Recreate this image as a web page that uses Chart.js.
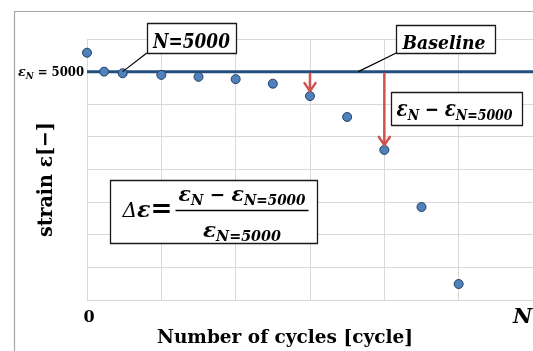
<!DOCTYPE html>
<html><head><meta charset="utf-8">
<script src="https://cdn.jsdelivr.net/npm/chart.js@4/dist/chart.umd.min.js"></script>
<style>html,body{margin:0;padding:0;background:#fff;overflow:hidden}</style>
</head><body>
<canvas id="c" width="533" height="351"></canvas>
<script>
// ---- data ----
const cycles = [0, 0.23, 0.48, 1, 1.5, 2, 2.5, 3, 3.5, 4, 4.5, 5];
const strain = [7.58, 7.0, 6.95, 6.9, 6.84, 6.77, 6.63, 6.25, 5.61, 4.6, 2.85, 0.49];
const baselineX = [0, 6];
const baselineY = [7, 7];
const xTickLabels = ['0', 'N'];
const yTickValue = 7;
const arrowIdx = [7, 9];

const SERIF = '"DejaVu Serif"';
function F(style, size){ return style + ' ' + size + 'px ' + SERIF; }

function runsWidth(ctx, runs){ let w=0; for(const r of runs){ ctx.font=r.f; w+=ctx.measureText(r.t).width; } return w; }
// draw runs squeezed/stretched to a target width, centred on cx, on baseline y
function drawFit(ctx, runs, cx, y, target){
  const w = runsWidth(ctx, runs);
  const s = target ? target / w : 1;
  ctx.save();
  ctx.translate(cx - w*s/2, y); ctx.scale(s, 1);
  ctx.textAlign='left'; ctx.textBaseline='alphabetic';
  let x = 0;
  for(const r of runs){ ctx.font=r.f; ctx.fillText(r.t, x, r.dy||0); x += ctx.measureText(r.t).width; }
  ctx.restore();
}
function epsN(size, subSize, sub){
  return [{t:'ε', f:F('bold italic', size)}, {t:sub, f:F('bold italic', subSize), dy: Math.round(size*0.2)}];
}

const annot = {
  id:'annot',
  beforeDraw(chart){
    const ctx = chart.ctx;
    ctx.save();
    ctx.fillStyle='#fff'; ctx.fillRect(0,0,chart.width,chart.height);
    ctx.strokeStyle='#a6a6a6'; ctx.lineWidth=1.2;
    ctx.beginPath(); ctx.moveTo(14.5, chart.height); ctx.lineTo(14.5, 11.5); ctx.lineTo(chart.width, 11.5); ctx.stroke();
    ctx.restore();
  },
  afterDatasetsDraw(chart){
    const ctx = chart.ctx, xs = chart.scales.x, ys = chart.scales.y, ca = chart.chartArea;
    const px = v => xs.getPixelForValue(v), py = v => ys.getPixelForValue(v);
    ctx.save();
    // red arrows from the baseline down to the point
    ctx.strokeStyle = '#cf5250'; ctx.lineWidth = 2.5; ctx.lineCap='round'; ctx.lineJoin='round';
    for(const i of arrowIdx){
      const x = px(cycles[i]); const y0 = py(baselineY[0]) + 2; const tip = py(strain[i]) - 5;
      ctx.beginPath(); ctx.moveTo(x, y0); ctx.lineTo(x, tip); ctx.stroke();
      ctx.beginPath(); ctx.moveTo(x-5.5, tip-8); ctx.lineTo(x, tip); ctx.lineTo(x+5.5, tip-8); ctx.stroke();
    }
    // leader lines
    ctx.strokeStyle='#000'; ctx.lineWidth=1.2; ctx.lineCap='butt';
    ctx.beginPath(); ctx.moveTo(px(0.805), py(7.57)); ctx.lineTo(px(0.48), py(7.0)); ctx.stroke();
    ctx.beginPath(); ctx.moveTo(px(4.16), py(7.57)); ctx.lineTo(px(3.65), py(7.0)); ctx.stroke();
    function box(x0,x1,yt,yb){
      const l=Math.round(px(x0))+0.5, r=Math.round(px(x1))+0.5, t=Math.round(py(yt))+0.5, b=Math.round(py(yb))+0.5;
      ctx.fillStyle='#fff'; ctx.fillRect(l,t,r-l,b-t);
      ctx.strokeStyle='#1a1a1a'; ctx.lineWidth=1.3; ctx.strokeRect(l,t,r-l,b-t);
      ctx.fillStyle='#000';
      return {l,r,t,b,cx:(l+r)/2,cy:(t+b)/2};
    }
    let b = box(0.805, 2.01, 8.49, 7.57);
    drawFit(ctx, [{t:'N=5000', f:F('bold italic',20)}], b.cx-0.5, b.b-6, 77);
    b = box(4.16, 5.49, 8.43, 7.57);
    drawFit(ctx, [{t:'Baseline', f:F('bold italic',18)}], b.cx-2, b.b-5, 83);
    b = box(4.09, 5.85, 6.38, 5.36);
    drawFit(ctx, [...epsN(22,15,'N'), {t:' − ', f:F('bold',20)}, ...epsN(22,15,'N=5000')], b.cx-2.5, b.b-10, 116);
    // formula box
    b = box(0.31, 3.10, 3.68, 1.75);
    const lineY = Math.round(b.t + 29.5) + 0.5;
    drawFit(ctx, [{t:'Δ', f:F('italic',20)}, {t:'ε', f:F('bold italic',22)}, {t:'=', f:F('bold',26)}], b.l+12+25, lineY+6, 50);
    const fl = b.l + 65, fr = b.l + 198;
    ctx.strokeStyle='#000'; ctx.lineWidth=1.3; ctx.beginPath(); ctx.moveTo(fl, lineY); ctx.lineTo(fr, lineY); ctx.stroke();
    drawFit(ctx, [...epsN(21,14,'N'), {t:' − ', f:F('bold',19)}, ...epsN(21,14,'N=5000')], (fl+fr)/2, lineY-10, 127);
    drawFit(ctx, epsN(21,14,'N=5000'), (fl+fr)/2, lineY+26, 78);
    // tick labels
    drawFit(ctx, [...epsN(13,9,'N'), {t:' = 5000', f:F('bold',12)}], 51, py(yTickValue)+4.5, 66);
    drawFit(ctx, [{t:xTickLabels[0], f:F('bold',16)}], px(0)+2, ca.bottom+22, null);
    drawFit(ctx, [{t:xTickLabels[1], f:F('bold italic',21)}], px(5.86), ca.bottom+23, null);
    // axis titles
    drawFit(ctx, [{t:'Number of cycles [cycle]', f:F('bold',19)}], 285, ca.bottom+43, 256);
    ctx.translate(52, 179.5); ctx.rotate(-Math.PI/2);
    drawFit(ctx, [{t:'strain ε[−]', f:F('bold',21)}], 0, 0, 115);
    ctx.restore();
  }
};

new Chart(document.getElementById('c'), {
  type:'scatter',
  data:{ datasets:[
    { label:'strain', data: cycles.map((x,i)=>({x, y:strain[i]})), backgroundColor:'#4f81bd', borderColor:'#243f66', borderWidth:1, pointRadius:4.5, clip:false },
    { label:'Baseline', type:'line', data: baselineX.map((x,i)=>({x, y:baselineY[i]})), borderColor:'#234e80', borderWidth:3, pointRadius:0, showLine:true, fill:false, clip:false }
  ]},
  options:{
    responsive:false, animation:false, devicePixelRatio:1,
    layout:{ autoPadding:false, padding:{ left:87, top:39, right:-1, bottom:51 } },
    plugins:{ legend:{display:false}, tooltip:{enabled:false} },
    scales:{
      x:{ type:'linear', min:0, max:6, ticks:{display:false, stepSize:1}, grid:{color:'#d9d9d9', drawTicks:false, lineWidth:1}, border:{display:false} },
      y:{ min:0, max:8, ticks:{display:false, stepSize:1}, grid:{color:'#d9d9d9', drawTicks:false, lineWidth:1}, border:{display:false} }
    }
  },
  plugins:[annot]
});
</script>
</body></html>
